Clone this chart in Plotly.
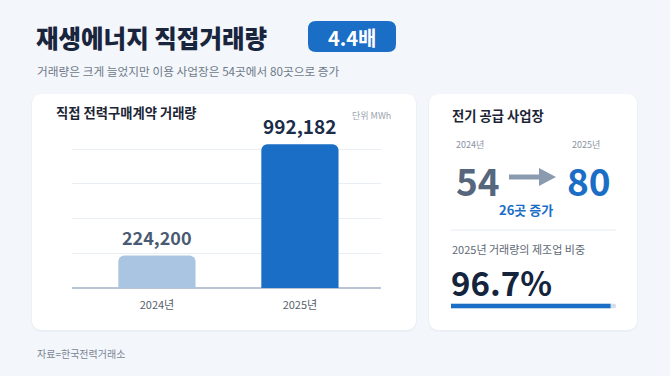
import plotly.graph_objects as go

# ---------------- data ----------------
years = ["2024년", "2025년"]
volumes = [224200, 992182]          # MWh
bar_colors = ["#a9c5e2", "#1a6ec6"]
label_colors = ["#4a5a72", "#1b2d48"]
label_sizes = [18, 19]
sites_years = ["2024년", "2025년"]
sites = [54, 80]
manuf_share = 96.7                  # %
ratio_label = "4.4배"

W, H = 670, 376
FONT = "Noto Sans CJK KR"


def X(px):
    return px / W


def Y(py):
    return 1 - py / H


def rrect(x0, y0, x1, y1, r):
    pts = [
        ("M", [(x0 + r, y0)]),
        ("L", [(x1 - r, y0)]),
        ("Q", [(x1, y0), (x1, y0 + r)]),
        ("L", [(x1, y1 - r)]),
        ("Q", [(x1, y1), (x1 - r, y1)]),
        ("L", [(x0 + r, y1)]),
        ("Q", [(x0, y1), (x0, y1 - r)]),
        ("L", [(x0, y0 + r)]),
        ("Q", [(x0, y0), (x0 + r, y0)]),
    ]
    s = ""
    for cmd, ps in pts:
        s += cmd + " " + " ".join(f"{X(a):.5f},{Y(b):.5f}" for a, b in ps) + " "
    return s + "Z"


fig = go.Figure()

# main bar chart
fig.add_trace(go.Bar(
    x=years, y=volumes, marker=dict(color=bar_colors, cornerradius=6, line=dict(width=0)),
    width=0.54, hoverinfo="skip", xaxis="x", yaxis="y",
))

# progress bar (share)
fig.add_trace(go.Bar(
    x=[100], y=[0], orientation="h", width=1,
    marker=dict(color="#d3dfec", cornerradius="50%", line=dict(width=0)),
    xaxis="x2", yaxis="y2", hoverinfo="skip",
))
fig.add_trace(go.Bar(
    x=[manuf_share], y=[0], orientation="h", width=1,
    marker=dict(color="#1a6ec6", cornerradius="50%", line=dict(width=0)),
    xaxis="x2", yaxis="y2", hoverinfo="skip",
))

shapes = []
# card shadows + cards
for (x0, y0, x1, y1) in [(32, 94, 416, 330), (429, 94, 637, 330)]:
    shapes.append(dict(type="path", path=rrect(x0 - 1, y0, x1 + 1, y1 + 2, 12),
                       xref="paper", yref="paper", fillcolor="rgba(30,60,110,0.035)",
                       line=dict(width=0), layer="below"))
    shapes.append(dict(type="path", path=rrect(x0, y0, x1, y1, 11),
                       xref="paper", yref="paper", fillcolor="#ffffff",
                       line=dict(width=0), layer="below"))
# badge
shapes.append(dict(type="path", path=rrect(308, 21, 396, 52, 8), xref="paper", yref="paper",
                   fillcolor="#1a6ec6", line=dict(width=0)))
# divider
shapes.append(dict(type="line", x0=X(451), x1=X(616), y0=Y(230), y1=Y(230),
                   xref="paper", yref="paper", line=dict(color="#e6ebf1", width=1)))
# arrow
ay = 177
arrow_pts = [(509, ay - 2.5), (539, ay - 2.5), (539, ay - 9), (556, ay), (539, ay + 9),
             (539, ay + 2.5), (509, ay + 2.5)]
apath = "M " + " L ".join(f"{X(a):.5f},{Y(b):.5f}" for a, b in arrow_pts) + " Z"
shapes.append(dict(type="path", path=apath, xref="paper", yref="paper",
                   fillcolor="#8a9bb0", line=dict(width=0)))

ann = []


def txt(x, y, text, size, color, weight=400, xanchor="left", yanchor="middle"):
    ann.append(dict(x=X(x), y=Y(y), xref="paper", yref="paper", text=text, showarrow=False,
                    xanchor=xanchor, yanchor=yanchor,
                    font=dict(family=FONT, size=size, color=color, weight=weight)))


txt(34, 37, "재생에너지 직접거래량", 24.5, "#18253d", 800)
txt(352, 37, ratio_label, 20, "#ffffff", 700, xanchor="center")
txt(35, 70, "거래량은 크게 늘었지만 이용 사업장은 54곳에서 80곳으로 증가", 11.7, "#6f7a88")
txt(54, 113, "직접 전력구매계약 거래량", 13.3, "#1b2535", 700)
txt(393, 115, "단위 MWh", 9, "#9aa3ae", xanchor="right")
txt(450, 115, "전기 공급 사업장", 13.3, "#1b2535", 700)
txt(470.5, 144.5, sites_years[0], 9, "#8a939f", xanchor="center")
txt(585.5, 144.5, sites_years[1], 9, "#8a939f", xanchor="center")
txt(454, 179.5, f"{sites[0]}", 37, "#56677d", 700)
txt(589, 179.5, f"{sites[1]}", 37, "#1a6ec6", 700, xanchor="center")
txt(526, 209, f"{sites[1] - sites[0]}곳 증가", 13, "#1a6ec6", 700, xanchor="center")
txt(450, 249, "2025년 거래량의 제조업 비중", 11, "#5d6876")
txt(449, 282, f"{manuf_share}%", 33, "#14243d", 700)
txt(35, 353, "자료=한국전력거래소", 10, "#7a8594")

# bar value labels (data-anchored)
for yr, v, c, s in zip(years, volumes, label_colors, label_sizes):
    ann.append(dict(x=yr, y=v, xref="x", yref="y", text=f"{v:,}", showarrow=False,
                    yanchor="middle", yshift=19,
                    font=dict(family=FONT, size=s, color=c, weight=700)))

fig.update_layout(
    width=W, height=H, autosize=False,
    margin=dict(l=0, r=0, t=0, b=0),
    paper_bgcolor="#f3f6fb", plot_bgcolor="rgba(0,0,0,0)",
    showlegend=False, barmode="overlay",
    shapes=shapes, annotations=ann,
    font=dict(family=FONT),
    xaxis=dict(domain=[X(72), X(381)], range=[-0.594, 1.567], showgrid=False,
               showline=False, zeroline=False, ticks="", ticklabelstandoff=9,
               tickfont=dict(family=FONT, size=11, color="#555e6b"), fixedrange=True),
    yaxis=dict(domain=[Y(288), Y(121.5)], range=[0, 1150000], tick0=0, dtick=240000,
               showgrid=True, gridcolor="#e9eef4", gridwidth=1, showticklabels=False,
               zeroline=True, zerolinecolor="#b9c5d3", zerolinewidth=1.5, ticks=""),
    xaxis2=dict(domain=[X(451), X(616)], range=[0, 100], visible=False, anchor="y2"),
    yaxis2=dict(domain=[Y(308.5), Y(303.5)], range=[-0.5, 0.5], visible=False, anchor="x2"),
)

fig.write_html("out.html")
